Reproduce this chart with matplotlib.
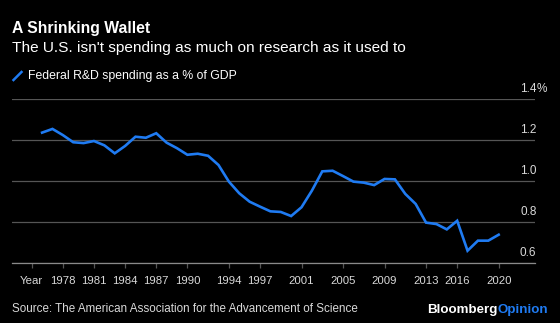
import matplotlib
matplotlib.use('Agg')
import matplotlib.pyplot as plt
from matplotlib.lines import Line2D

years = list(range(1976, 2021))
rd_pct_gdp = [1.236, 1.254, 1.224, 1.189, 1.185, 1.195, 1.174, 1.135, 1.171, 1.216,
              1.211, 1.233, 1.187, 1.160, 1.128, 1.133, 1.123, 1.078, 0.997, 0.940,
              0.899, 0.875, 0.852, 0.849, 0.829, 0.872, 0.953, 1.047, 1.050, 1.024,
              0.997, 0.992, 0.980, 1.010, 1.008, 0.937, 0.888, 0.797, 0.790, 0.764,
              0.806, 0.660, 0.709, 0.709, 0.738]
tick_years = [1975, 1978, 1981, 1984, 1987, 1990, 1994, 1997, 2001, 2005, 2009, 2013, 2016, 2020]
tick_labels = ['Year'] + [str(y) for y in tick_years[1:]]
y_ticks = [0.6, 0.8, 1.0, 1.2, 1.4]
y_labels = ['0.6', '0.8', '1.0', '1.2', '1.4%']

BG = '#000000'
BLUE = '#1f7bf2'
GRID = '#555555'
TXT = '#d9d9d9'
plt.rcParams['font.family'] = ['Liberation Sans', 'DejaVu Sans']

W, H = 560, 323
fig = plt.figure(figsize=(W / 100, H / 100), dpi=100, facecolor=BG)
ax = fig.add_axes([12 / W, 1 - 263 / H, (535 - 12) / W, (263 - 99) / H], facecolor=BG)

ax.plot(years, rd_pct_gdp, color=BLUE, lw=1.9, solid_joinstyle='miter', zorder=3)

ax.set_xlim(1973.1, 2023.5)
ax.set_ylim(0.6, 1.4)
ax.set_xticks(tick_years)
ax.set_xticklabels(tick_labels)
ax.set_yticks(y_ticks)
ax.set_yticklabels([])
ax.tick_params(axis='x', colors=GRID, labelcolor=TXT, labelsize=8.2, length=3.5, width=0.9, pad=6)
ax.tick_params(axis='y', length=0)
ax.grid(axis='y', color=GRID, lw=0.9)
for s in ['top', 'left', 'right']:
    ax.spines[s].set_visible(False)
ax.spines['bottom'].set_color('#8a8a8a')
ax.spines['bottom'].set_linewidth(0.9)

# value labels sit just above each gridline, right aligned, "%" hangs past the edge
for v, lab in zip(y_ticks, y_labels):
    ax.annotate(lab.replace('%', ''), (1.0, v), xycoords=ax.get_yaxis_transform(),
                xytext=(1, 3), textcoords='offset points',
                ha='right', va='bottom', color=TXT, fontsize=8.5)
    if lab.endswith('%'):
        ax.annotate('%', (1.0, v), xycoords=ax.get_yaxis_transform(),
                    xytext=(1, 3), textcoords='offset points',
                    ha='left', va='bottom', color=TXT, fontsize=8.5)

fig.text(12 / W, 1 - 28 / H, 'A Shrinking Wallet', color='white', fontsize=11.3,
         fontweight='bold', va='center', ha='left')
fig.text(12 / W, 1 - 48 / H, "The U.S. isn't spending as much on research as it used to",
         color='white', fontsize=11.1, va='center', ha='left')
fig.add_artist(Line2D([13.5 / W, 21.5 / W], [1 - 80 / H, 1 - 72 / H], color=BLUE, lw=1.8))
fig.text(28.5 / W, 1 - 76 / H, 'Federal R&D spending as a % of GDP', color='white',
         fontsize=8.8, va='center', ha='left')
fig.text(12 / W, 1 - 309 / H, 'Source: The American Association for the Advancement of Science',
         color=TXT, fontsize=8.4, va='center', ha='left')
t = fig.text(427 / W, 1 - 310 / H, 'Bloomberg', color='white', fontsize=9.6,
             fontweight='bold', va='center', ha='left')
fig.canvas.draw()
bb = t.get_window_extent()
fig.text(bb.x1 / W, 1 - 310 / H, 'Opinion', color=BLUE, fontsize=9.6,
         fontweight='bold', va='center', ha='left')

fig.savefig('out.png', dpi=100, facecolor=BG)
